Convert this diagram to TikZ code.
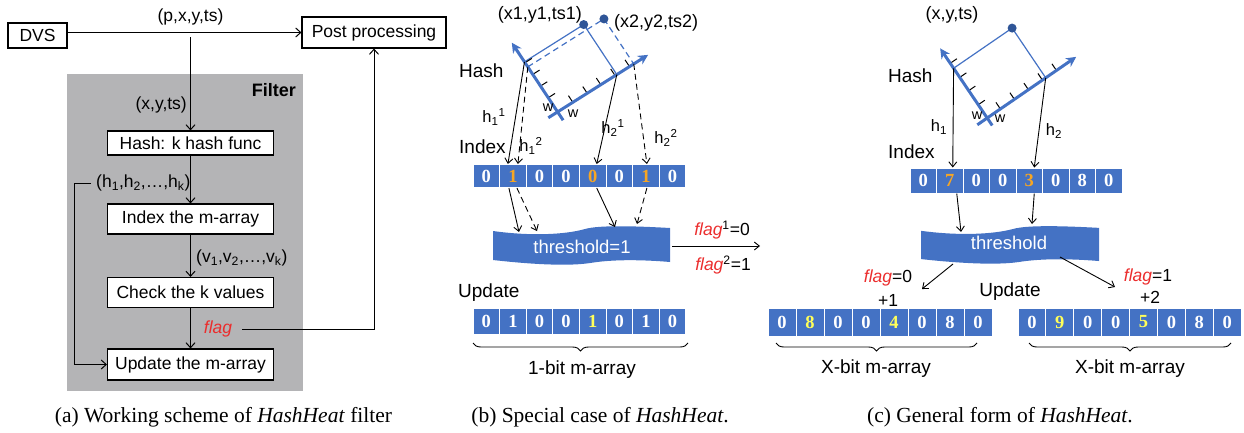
\documentclass[tikz,border=0pt]{standalone}
\usepackage{fontspec}
\setmainfont{Liberation Serif}
\setsansfont{Liberation Sans}
\usetikzlibrary{arrows.meta,calc,decorations.pathreplacing}
\definecolor{cblue}{RGB}{68,114,196}
\definecolor{dblue}{RGB}{47,85,151}
\definecolor{org}{RGB}{247,166,35}
\definecolor{yel}{RGB}{255,255,90}
\definecolor{flagred}{RGB}{235,45,45}
\definecolor{fgray}{RGB}{180,180,182}
\newcommand{\fsz}[1]{\fontsize{#1}{#1}\selectfont}
\newcommand{\mkarray}[6]{%
  \foreach \v/\c [count=\i from 0] in {#6} {
    \node[cell, minimum width=#4, minimum height=#5, text=\c] (#1-\i) at ({#2+#4*(\i+0.5)},#3) {\v};
  }}
\newcommand{\mkbanner}[4]{%
  \begin{scope}[shift={(#1,#2)},xscale=#3,yscale=#4]
  \fill[cblue] (0,8) .. controls (20,13) and (40,12) .. (52,6) .. controls (60,2) and (80,3) .. (100,5)
     -- (100,39) .. controls (80,36) and (65,37) .. (55,40) .. controls (40,44) and (15,40) .. (0,37) -- cycle;
  \end{scope}}
\tikzset{
  every node/.style={inner sep=0pt},
  box/.style={draw, line width=1.1pt, fill=white, font=\sffamily\fsz{17.5}},
  cell/.style={fill=cblue, draw=white, line width=1pt, font=\rmfamily\bfseries\fsz{18.5}},
  arr/.style={-{Straight Barb[length=5pt,width=9pt]}, line width=1pt},
  arr2/.style={-{Straight Barb[length=5pt,width=8pt]}, line width=0.9pt},
  dsh/.style={dash pattern=on 6pt off 4pt},
  lbl/.style={font=\sffamily\fsz{17.5}},
  lblb/.style={font=\sffamily\fsz{19}},
  lblc/.style={font=\sffamily\fsz{18}},
  hlbl/.style={font=\sffamily\fsz{16.5}},
  wlbl/.style={font=\sffamily\fsz{14.5}},
  axis/.style={cblue, line width=3pt, -{Stealth[length=10pt,width=10pt]}},
  thinb/.style={cblue, line width=1.2pt},
  tickln/.style={black, line width=1pt},
  thr/.style={font=\sffamily\fsz{18.5}, text=white},
  capt/.style={font=\rmfamily\fsz{21.5}, anchor=base},
  brc/.style={decorate, decoration={brace,mirror,amplitude=8pt}, line width=0.9pt},
}
\begin{document}
\begin{tikzpicture}[x=1pt,y=-1pt]
\useasboundingbox (0,0) rectangle (1244,432);
% ---------------- (a) ----------------
\node[fill=fgray, minimum width=236, minimum height=317] (filterbg) at (185,232.5) {};
\node[font=\sffamily\bfseries\fsz{18}, anchor=east] (filterlbl) at (296,90) {Filter};
\node[box, minimum width=59, minimum height=25] (dvs) at (37.5,35.5) {DVS};
\node[box, minimum width=144, minimum height=31] (post) at (374,32.5) {Post processing};
\node[box, minimum width=166, minimum height=24] (hash) at (190.5,143) {Hash: k hash func};
\node[box, minimum width=166, minimum height=30] (index) at (190.5,219) {Index the m-array};
\node[box, minimum width=166, minimum height=30] (check) at (190.5,292.5) {Check the k values};
\node[box, minimum width=166, minimum height=31] (update) at (190.5,364.5) {Update the m-array};
\node[lbl] (pxyts) at (190.5,17) {(p,x,y,ts)};
\draw[arr] (dvs.east |- post.west) -- (post.west);
\coordinate (split) at (190.5,37);
\draw[arr] (split) -- (hash.north);
\node[lbl, anchor=east] (xyts) at (187,105) {(x,y,ts)};
\draw[arr] (hash) -- (index);
\node[lbl, anchor=west] (hlist) at (96,183) {(h\textsubscript{1},h\textsubscript{2},…,h\textsubscript{k})};
\draw[arr, shorten <=5pt] (hlist.west) -- ++(-22,0) |- (update.west);
\draw[arr] (index) -- (check);
\node[lbl, anchor=west] (vlist) at (196,258) {(v\textsubscript{1},v\textsubscript{2},…,v\textsubscript{k})};
\draw[arr] (check) -- (update);
\node[lbl, text=flagred, font=\sffamily\itshape\fsz{17.5}] (flag) at (218,329) {flag};
\draw[arr, shorten <=10pt] (flag.east) -| (post.south);
\node[capt] (capa) at (223.5,422) {(a) Working scheme of \textit{HashHeat} filter};
% ---------------- (b) ----------------
\coordinate (Ob) at (557.6,111.9);
\coordinate (uxb) at (0.846,-0.533);
\coordinate (uyb) at (-0.552,-0.834);
\coordinate (d1) at ($(Ob)+70*(uxb)+60*(uyb)$);
\coordinate (d2) at ($(Ob)+90*(uxb)+54*(uyb)$);
\coordinate (fy1) at ($(Ob)+60*(uyb)$);
\coordinate (fx1) at ($(Ob)+70*(uxb)$);
\coordinate (fy2) at ($(Ob)+54*(uyb)$);
\coordinate (fx2) at ($(Ob)+90*(uxb)$);
\draw[thinb] (fy1) -- (d1) -- (fx1);
\draw[thinb, dsh] (fy2) -- (d2) -- (fx2);
\foreach \d in {17,31,45,59} \draw[tickln] ($(Ob)+\d*(uyb)$) -- ++($8*(uxb)$);
\foreach \d in {18,35,51,68,85} \draw[tickln] ($(Ob)+\d*(uxb)$) -- ++($8*(uyb)$);
\draw[axis] ($(Ob)-10*(uyb)$) -- ($(Ob)+83*(uyb)$);
\draw[axis] ($(Ob)-11*(uxb)$) -- ($(Ob)+107*(uxb)$);
\fill[dblue] (d1) circle (4.5pt);
\fill[dblue] (d2) circle (4.5pt);
\node[lblc, anchor=east] (lab1) at (582,15) {(x1,y1,ts1)};
\node[lblc, anchor=west] (lab2) at (614,23) {(x2,y2,ts2)};
\node[wlbl] (wb1) at (548,108) {w};
\node[wlbl] (wb2) at (573,114) {w};
\node[lblb, anchor=west] (hashb) at (459,71) {Hash};
\node[lblb, anchor=west] (indexb) at (459,147) {Index};
\node[hlbl] (h11) at (494,117) {h\textsubscript{1}\textsuperscript{1}};
\node[hlbl] (h12) at (531,146) {h\textsubscript{1}\textsuperscript{2}};
\node[hlbl] (h21) at (613,128) {h\textsubscript{2}\textsuperscript{1}};
\node[hlbl] (h22) at (666,138) {h\textsubscript{2}\textsuperscript{2}};
\mkarray{bi}{473}{176}{26.6}{23}{0/white,1/org,0/white,0/white,0/org,0/white,1/org,0/white}
\draw[arr2] (fy1) -- ($(bi-1.north)+(-5,0)$);
\draw[arr2, dsh] (fy2) -- ($(bi-1.north)+(5,0)$);
\draw[arr2] (fx1) -- ($(bi-4.north)+(4,0)$);
\draw[arr2, dsh] (fx2) -- ($(bi-6.north)+(1,0)$);
\mkbanner{493}{223}{1.77}{1.0}
\node[thr] (thb) at (582,247) {threshold=1};
\coordinate (tb1) at (519,232);
\coordinate (tb2) at (537,231);
\coordinate (tb3) at (615,227);
\coordinate (tb4) at (637,224);
\draw[arr2] ($(bi-1.south)+(-4,0)$) -- (tb1);
\draw[arr2, dsh] ($(bi-1.south)+(4,0)$) -- (tb2);
\draw[arr2] ($(bi-4.south)+(4,0)$) -- (tb3);
\draw[arr2, dsh] ($(bi-6.south)+(1,0)$) -- (tb4);
\coordinate (bR) at (672,246);
\coordinate (bflagend) at (760,246);
\draw[arr2] (bR) -- (bflagend);
\node[lbl] (f1) at (722,230) {\textcolor{flagred}{\textit{flag}}\textsuperscript{1}=0};
\node[lbl] (f2) at (723,265) {\textcolor{flagred}{\textit{flag}}\textsuperscript{2}=1};
\node[lblb, anchor=west] (updb) at (458,293) {Update};
\mkarray{bu}{473}{321}{26.6}{26}{0/white,1/white,0/white,0/white,1/yel,0/white,1/white,0/white}
\draw[brc] (473,343) -- (688,343);
\node[lblb] (onebit) at (582,370) {1-bit m-array};
\node[capt] (capb) at (600,422) {(b) Special case of \textit{HashHeat}.};
% ---------------- (c) ----------------
\coordinate (Oc) at (987.2,118);
\coordinate (uxc) at (0.824,-0.566);
\coordinate (uyc) at (-0.560,-0.829);
\coordinate (dc) at ($(Oc)+71*(uxc)+60*(uyc)$);
\coordinate (fyc) at ($(Oc)+60*(uyc)$);
\coordinate (fxc) at ($(Oc)+71*(uxc)$);
\draw[thinb] (fyc) -- (dc) -- (fxc);
\foreach \d in {16,33,49,66} \draw[tickln] ($(Oc)+\d*(uyc)$) -- ++($8*(uxc)$);
\foreach \d in {16,33,50,67,84} \draw[tickln] ($(Oc)+\d*(uxc)$) -- ++($8*(uyc)$);
\draw[axis] ($(Oc)-9*(uyc)$) -- ($(Oc)+84*(uyc)$);
\draw[axis] ($(Oc)-12*(uxc)$) -- ($(Oc)+108*(uxc)$);
\fill[dblue] (dc) circle (4.5pt);
\node[lblc] (labc) at (952,15) {(x,y,ts)};
\node[wlbl] (wc1) at (977,116) {w};
\node[wlbl] (wc2) at (1000,119) {w};
\node[lblb, anchor=west] (hashc) at (888,76) {Hash};
\node[lblb, anchor=west] (indexc) at (888,152) {Index};
\node[hlbl] (hc1) at (939,127) {h\textsubscript{1}};
\node[hlbl] (hc2) at (1054,131) {h\textsubscript{2}};
\mkarray{ci}{910}{180.5}{26.5}{25}{0/white,7/org,0/white,0/white,3/org,0/white,8/white,0/white}
\draw[arr2] (fyc) -- ($(ci-1.north)+(3,0)$);
\draw[arr2] (fxc) -- ($(ci-4.north)+(5,0)$);
\mkbanner{921}{223}{1.78}{0.975}
\node[thr] (thc) at (1009,243) {threshold};
\coordinate (tc1) at (961,232);
\coordinate (tc2) at (1032,224);
\draw[arr2] ($(ci-1.south)+(7,0)$) -- (tc1);
\draw[arr2] ($(ci-4.south)+(5,0)$) -- (tc2);
\coordinate (cL0) at (953,264);
\coordinate (cL1) at (922,289);
\coordinate (cR0) at (1060,257);
\coordinate (cR1) at (1115,287);
\draw[arr2] (cL0) -- (cL1);
\draw[arr2] (cR0) -- (cR1);
\node[lbl] (fc0) at (888,278) {\textcolor{flagred}{\textit{flag}}=0};
\node[lbl] (pl1) at (888,300) {+1};
\node[lbl] (fc1) at (1148,277) {\textcolor{flagred}{\textit{flag}}=1};
\node[lbl] (pl2) at (1150,297) {+2};
\node[lblb] (updc) at (1010,292) {Update};
\mkarray{cl}{768}{322}{28}{28}{0/white,8/yel,0/white,0/white,4/yel,0/white,8/white,0/white}
\mkarray{cr}{1018}{322}{27.9}{28}{0/white,9/yel,0/white,0/white,5/yel,0/white,8/white,0/white}
\draw[brc] (776,343) -- (977,343);
\draw[brc] (1029,343) -- (1231,343);
\node[lblb] (xbit1) at (876,369) {X-bit m-array};
\node[lblb] (xbit2) at (1130,369) {X-bit m-array};
\node[capt] (capc) at (1000,422) {(c) General form of \textit{HashHeat}.};
\end{tikzpicture}
\end{document}
